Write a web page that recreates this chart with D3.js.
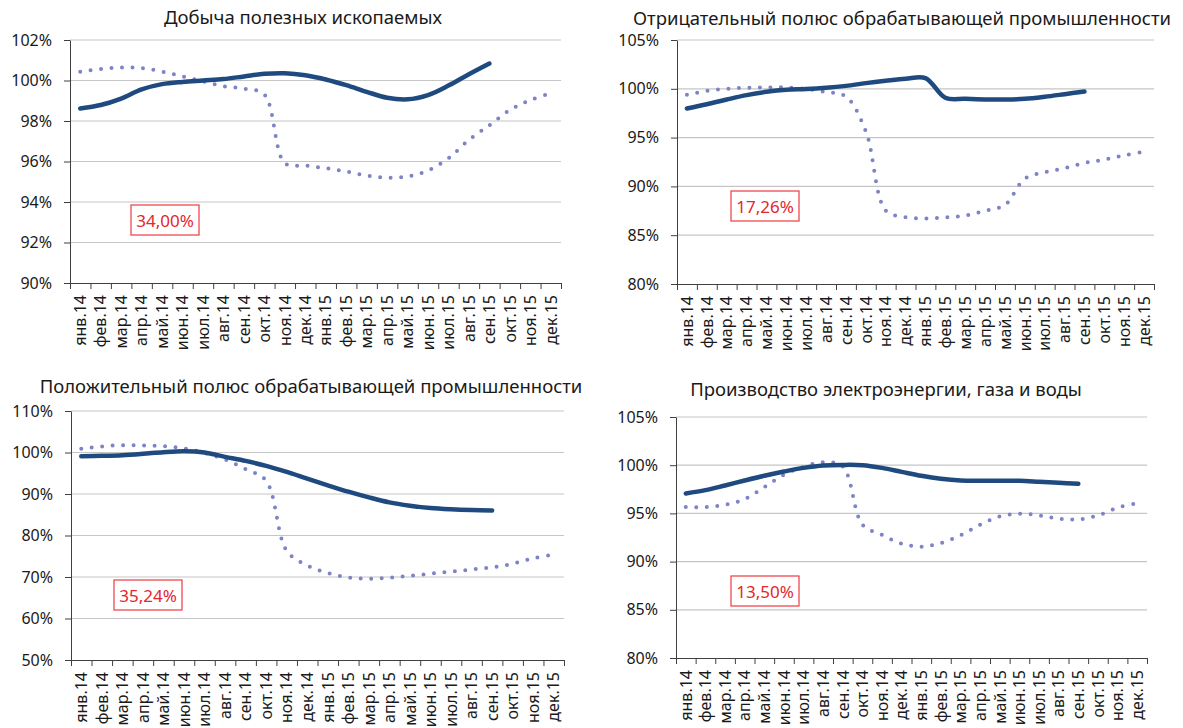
<!DOCTYPE html>
<html>
<head>
<meta charset="utf-8">
<script src="https://cdn.jsdelivr.net/npm/d3@7"></script>
<style>
    body { margin: 0; background: #fff; }
    text { font-family: "Noto Sans", sans-serif; fill: #1a1a1a; }
</style>
</head>
<body>
<svg id="chart" width="1183" height="728"></svg>
<script>
// месяцы по оси X
var months = ["янв.14", "фев.14", "мар.14", "апр.14", "май.14", "июн.14", "июл.14", "авг.14", "сен.14", "окт.14", "ноя.14", "дек.14",
              "янв.15", "фев.15", "мар.15", "апр.15", "май.15", "июн.15", "июл.15", "авг.15", "сен.15", "окт.15", "ноя.15", "дек.15"];

// сплошная линия (факт), янв.14 - сен.15
var miningActual = [98.62, 98.79, 99.11, 99.56, 99.82, 99.93, 100.0, 100.07, 100.2, 100.33, 100.36, 100.26, 100.05, 99.77, 99.44, 99.15, 99.07, 99.28, 99.75, 100.31, 100.84];
var negActual = [97.98, 98.42, 98.9, 99.35, 99.69, 99.9, 99.97, 100.1, 100.3, 100.58, 100.82, 101.03, 101.1, 99.08, 98.97, 98.9, 98.9, 98.97, 99.18, 99.45, 99.73];
var posActual = [99.11, 99.19, 99.35, 99.68, 100.08, 100.3, 100.0, 98.95, 97.98, 96.77, 95.32, 93.7, 92.1, 90.56, 89.19, 87.98, 87.18, 86.6, 86.3, 86.13, 86.05];
var powerActual = [97.07, 97.41, 97.9, 98.41, 98.9, 99.34, 99.72, 99.97, 100.03, 100.0, 99.72, 99.31, 98.9, 98.59, 98.41, 98.38, 98.38, 98.38, 98.28, 98.17, 98.07];

// точечная линия, янв.14 - дек.15
var miningTrend = [100.43, 100.57, 100.64, 100.61, 100.44, 100.2, 99.95, 99.72, 99.59, 99.31, 95.92, 95.8, 95.67, 95.51, 95.31, 95.2, 95.26, 95.56, 96.16, 97.07, 97.79, 98.54, 99.03, 99.38];
var negTrend = [99.38, 99.79, 100.0, 100.1, 100.14, 100.14, 99.97, 99.66, 99.21, 95.65, 87.53, 86.85, 86.71, 86.82, 87.02, 87.5, 88.1, 90.8, 91.44, 91.88, 92.4, 92.74, 93.18, 93.55];
var posTrend = [100.89, 101.45, 101.77, 101.7, 101.53, 100.97, 99.9, 98.3, 96.0, 93.2, 76.3, 72.8, 70.97, 69.9, 69.6, 69.8, 70.3, 70.8, 71.3, 71.8, 72.34, 73.2, 74.5, 75.4];
var powerTrend = [95.66, 95.66, 95.9, 96.48, 97.72, 99.0, 99.83, 100.31, 99.86, 93.83, 92.76, 91.86, 91.55, 91.93, 92.72, 93.83, 94.69, 94.97, 94.79, 94.45, 94.38, 94.79, 95.59, 96.05];

// деления оси Y
var miningTicks = [90, 92, 94, 96, 98, 100, 102];
var negTicks = [80, 85, 90, 95, 100, 105];
var posTicks = [50, 60, 70, 80, 90, 100, 110];
var powerTicks = [80, 85, 90, 95, 100, 105];

var titles = ["Добыча полезных ископаемых",
              "Отрицательный полюс обрабатывающей промышленности",
              "Положительный полюс обрабатывающей промышленности",
              "Производство электроэнергии, газа и воды"];
var boxLabels = ["34,00%", "17,26%", "35,24%", "13,50%"];

var svg = d3.select("#chart");

function drawPanel(opt) {
    var g = svg.append("g");

    var x = d3.scaleBand().domain(months).range([opt.left, opt.right]);
    var xEdge = d3.scaleLinear().domain([0, months.length]).range([opt.left, opt.right]);
    var y = d3.scaleLinear()
        .domain([opt.ticks[0], opt.ticks[opt.ticks.length - 1]])
        .range([opt.bottom, opt.top]);

    // сетка
    g.append("g").selectAll("line")
        .data(opt.ticks.slice(1))
        .enter().append("line")
        .attr("x1", opt.left).attr("x2", opt.right)
        .attr("y1", function(d) { return y(d); })
        .attr("y2", function(d) { return y(d); })
        .attr("stroke", "#c6c6c6")
        .attr("stroke-width", 1.2);

    // ось Y
    var yAxis = d3.axisLeft(y)
        .tickValues(opt.ticks)
        .tickSize(6).tickSizeOuter(0).tickPadding(12)
        .tickFormat(function(d) { return d + "%"; });
    var ya = g.append("g")
        .attr("transform", "translate(" + opt.left + ",0)")
        .call(yAxis);
    ya.attr("font-family", null).attr("font-size", 16);
    ya.selectAll("path, line").attr("stroke", "#404040");

    // ось X: риски на границах категорий
    var xa = g.append("g")
        .attr("transform", "translate(0," + opt.bottom + ")")
        .call(d3.axisBottom(xEdge).tickValues(d3.range(months.length + 1)).tickSize(6).tickSizeOuter(0).tickFormat(""));
    xa.selectAll("path, line").attr("stroke", "#404040");

    // подписи месяцев
    var xl = g.append("g")
        .attr("transform", "translate(0," + opt.bottom + ")")
        .call(d3.axisBottom(x).tickSize(0));
    xl.select(".domain").remove();
    xl.attr("font-family", null).attr("font-size", 16);
    xl.selectAll("text")
        .attr("transform", "rotate(-90)")
        .attr("x", -12)
        .attr("y", 0)
        .attr("dy", "0.36em")
        .style("text-anchor", "end");

    var line = d3.line()
        .x(function(d, i) { return x(months[i]) + x.bandwidth() / 2; })
        .y(function(d) { return y(d); })
        .curve(d3.curveCatmullRom);

    g.append("path")
        .datum(opt.trend)
        .attr("d", line)
        .attr("fill", "none")
        .attr("stroke", "#7c84c6")
        .attr("stroke-width", 4)
        .attr("stroke-linecap", "round")
        .attr("stroke-dasharray", "0 10.5");

    g.append("path")
        .datum(opt.actual)
        .attr("d", line)
        .attr("fill", "none")
        .attr("stroke", "#1f4a80")
        .attr("stroke-width", 4.5)
        .attr("stroke-linecap", "round")
        .attr("stroke-linejoin", "round");

    // заголовок
    g.append("text")
        .attr("x", opt.titleX)
        .attr("y", opt.titleY)
        .attr("text-anchor", "middle")
        .attr("font-size", 18.5)
        .text(opt.title);

    // рамка с процентом
    g.append("rect")
        .attr("x", opt.box[0]).attr("y", opt.box[1])
        .attr("width", 68).attr("height", 30)
        .attr("fill", "#fff")
        .attr("stroke", "#f03a3f")
        .attr("stroke-width", 1.2);
    g.append("text")
        .attr("x", opt.box[0] + 34)
        .attr("y", opt.box[1] + 22)
        .attr("text-anchor", "middle")
        .attr("font-size", 17)
        .style("fill", "#e5262b")
        .text(opt.label);
}

drawPanel({ left: 70, right: 561, top: 40, bottom: 283, ticks: miningTicks,
            actual: miningActual, trend: miningTrend, title: titles[0], titleX: 303, titleY: 24,
            box: [131, 205], label: boxLabels[0] });
drawPanel({ left: 677, right: 1154, top: 40, bottom: 284, ticks: negTicks,
            actual: negActual, trend: negTrend, title: titles[1], titleX: 902, titleY: 25,
            box: [731, 191], label: boxLabels[1] });
drawPanel({ left: 71, right: 564, top: 411, bottom: 660, ticks: posTicks,
            actual: posActual, trend: posTrend, title: titles[2], titleX: 311, titleY: 393,
            box: [114, 580], label: boxLabels[2] });
drawPanel({ left: 676, right: 1147, top: 417, bottom: 658, ticks: powerTicks,
            actual: powerActual, trend: powerTrend, title: titles[3], titleX: 886, titleY: 396,
            box: [731, 576], label: boxLabels[3] });
</script>
</body>
</html>
